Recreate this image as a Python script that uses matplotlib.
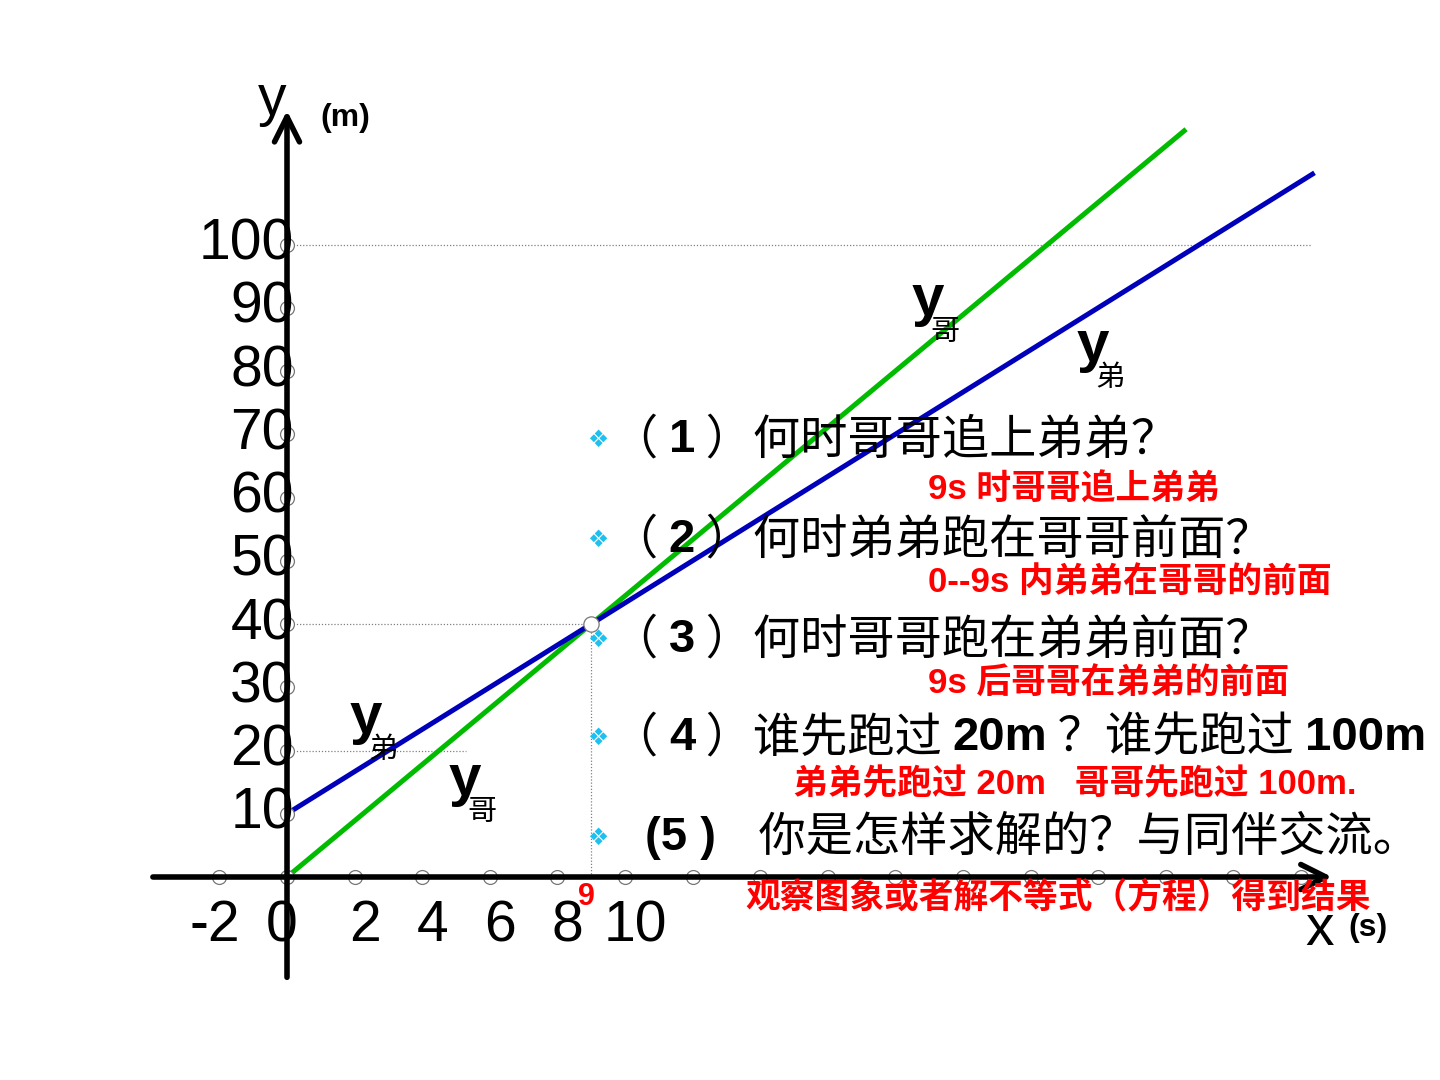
import matplotlib
matplotlib.use("Agg")
import matplotlib.pyplot as plt
import numpy as np

plt.rcParams['font.family'] = ['Liberation Sans', 'Noto Sans CJK SC', 'DejaVu Sans']

# ---- data ----
ge_speed = 40 / 9          # 哥哥: y = 40/9 x
di_start = 10              # 弟弟: y = 10 + 30/9 x
di_speed = 30 / 9
ge_x_end = 26.6
di_x_end = 30.4
meet_x, meet_y = 9, 40

x_ticks = [-2, 0, 2, 4, 6, 8, 10]
x_dots = list(range(-2, 31, 2))
y_ticks = [10, 20, 30, 40, 50, 60, 70, 80, 90, 100]

questions = [
    [("（ ", 0), ("1", 1), (" ）何时哥哥追上弟弟？", 0)],
    [("（ ", 0), ("2", 1), (" ）何时弟弟跑在哥哥前面？", 0)],
    [("（ ", 0), ("3", 1), (" ）何时哥哥跑在弟弟前面？", 0)],
    [("（ ", 0), ("4", 1), (" ）谁先跑过 ", 0), ("20m", 1), (" ？谁先跑过 ", 0), ("100m", 1)],
    [("(5 )", 1), ("    你是怎样求解的？与同伴交流。", 0)],
]
answers = [
    "9s 时哥哥追上弟弟",
    "0--9s 内弟弟在哥哥的前面",
    "9s 后哥哥在弟弟的前面",
    "弟弟先跑过 20m   哥哥先跑过 100m.",
    "观察图象或者解不等式（方程）得到结果",
]

W, H = 1440, 1080
fig = plt.figure(figsize=(14.4, 10.8), dpi=100)
ax = fig.add_axes([0, 0, 1, 1])
# 1 unit x = 33.8 px, 1 unit y = 6.325 px, origin at pixel (287, 877)
ax.set_xlim(-287 / 33.8, (W - 287) / 33.8)
ax.set_ylim((877 - H) / 6.325, 877 / 6.325)
ax.axis('off')


def P(x, y):
    return x / W, 1 - y / H


# axes with arrows
ax.annotate('', xy=(31.0, 0), xytext=(-4.05, 0),
            arrowprops=dict(arrowstyle='->', lw=4, color='black', mutation_scale=45))
ax.annotate('', xy=(0, 121.6), xytext=(0, -16.3),
            arrowprops=dict(arrowstyle='->', lw=4, color='black', mutation_scale=45))

# dotted guide lines
gcol = '#808080'
ax.plot([0, 30.3], [100, 100], ls=(0, (1, 1.5)), lw=0.9, color=gcol)
ax.plot([0, meet_x], [meet_y, meet_y], ls=(0, (1, 1.5)), lw=0.9, color=gcol)
ax.plot([0, 5.3], [20, 20], ls=(0, (1, 1.5)), lw=0.9, color=gcol)
ax.plot([meet_x, meet_x], [0, meet_y], ls=(0, (1, 1.5)), lw=0.9, color=gcol)

# the two lines
xg = np.array([0, ge_x_end])
xd = np.array([0, di_x_end])
ax.plot(xg, ge_speed * xg, color='#00bb00', lw=3.6, solid_capstyle='butt')
ax.plot(xd, di_start + di_speed * xd, color='#0000bb', lw=3.6, solid_capstyle='butt')

# tick dots
ax.plot(x_dots, [0] * len(x_dots), 'o', ms=10, mfc='white', mec='#777777', mew=0.9)
ax.plot([0] * len(y_ticks), y_ticks, 'o', ms=10, mfc='white', mec='#777777', mew=0.9)
ax.plot([meet_x], [meet_y], 'o', ms=11, mfc='white', mec='#777777', mew=0.9)

# tick labels
for v in y_ticks:
    ax.text(0.2, v, str(v), ha='right', va='center', fontsize=41, color='black')
for v in x_ticks:
    off = 0.3 if v > 0 else -0.15
    ax.text(v + off, -7.8, str(v), ha='center', va='center', fontsize=41, color='black')
ax.text(meet_x - 0.15, -3.2, '9', ha='center', va='center', fontsize=22,
        fontweight='bold', color='#ff0000')

# axis names
fig.text(*P(272, 100), 'y', ha='center', va='center', fontsize=41)
fig.text(*P(345, 118), '(m)', ha='center', va='center', fontsize=23, fontweight='bold')
fig.text(*P(1320, 930), 'x', ha='center', va='center', fontsize=41)
fig.text(*P(1368, 928), '(s)', ha='center', va='center', fontsize=23, fontweight='bold')

# line names
for (xx, yy, sub) in [(928, 300, '哥'), (1093, 346, '弟'), (366, 718, '弟'), (465, 780, '哥')]:
    fig.text(*P(xx, yy), 'y', ha='center', va='center', fontsize=42, fontweight='bold')
    fig.text(*P(xx + 17, yy + 32), sub, ha='center', va='center', fontsize=21,
             family=['Noto Sans CJK SC'])

# questions with bullets
fig.canvas.draw()
rend = fig.canvas.get_renderer()
q_y = [440, 540, 640, 738, 838]
q_x = [611, 611, 611, 611, 645]
for row, yy, x0 in zip(questions, q_y, q_x):
    fig.text(*P(598, yy), '❖', ha='center', va='center', fontsize=17,
             color='#1ec0f0', family=['DejaVu Sans'])
    xc = x0
    for seg, bold in row:
        if bold:
            t = fig.text(*P(xc, yy), seg, ha='left', va='center', fontsize=34,
                         fontweight='bold', family=['Liberation Sans'])
        else:
            t = fig.text(*P(xc, yy), seg, ha='left', va='center', fontsize=34,
                         family=['Noto Sans CJK SC', 'DejaVu Sans'])
        bb = t.get_window_extent(renderer=rend)
        xc += bb.width

# red answers
a_pos = [(928, 490), (928, 582), (928, 683), (793, 785), (745, 898)]
for txt, (xx, yy) in zip(answers, a_pos):
    fig.text(*P(xx, yy), txt, ha='left', va='center', fontsize=25, fontweight='bold',
             color='#ff0000')

fig.savefig('out.png', dpi=100)
